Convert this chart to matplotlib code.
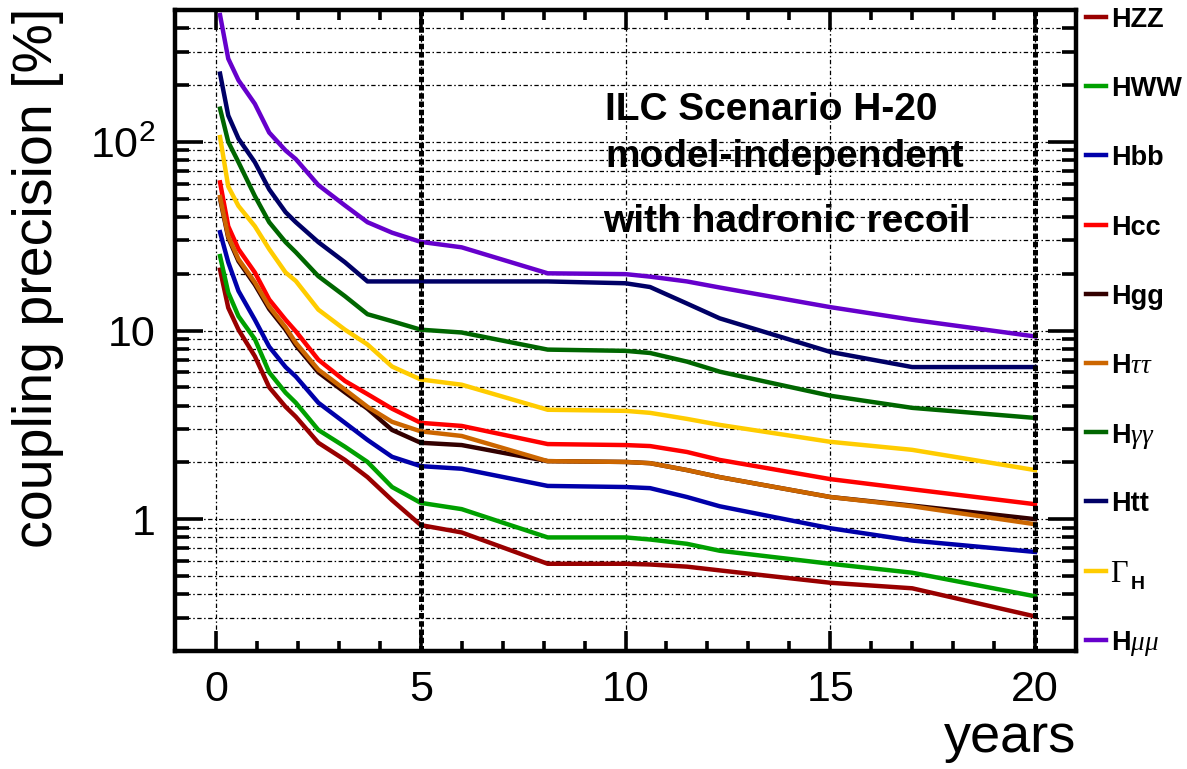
import matplotlib
matplotlib.use("Agg")
import matplotlib.pyplot as plt
from matplotlib.lines import Line2D
from matplotlib.ticker import FixedLocator, FixedFormatter, NullFormatter

plt.rcParams['font.family'] = ['Liberation Sans', 'DejaVu Sans']
plt.rcParams['mathtext.fontset'] = 'custom'
plt.rcParams['mathtext.rm'] = 'Liberation Serif'
plt.rcParams['mathtext.it'] = 'Liberation Serif:italic'
plt.rcParams['mathtext.bf'] = 'Liberation Sans:bold'

# running time in years
years = [0.1, 0.3, 0.55, 0.95, 1.3, 1.7, 1.95, 2.5, 3.15, 3.7, 4.3, 5.0,
         6.0, 8.1, 10.0, 10.6, 11.5, 12.3, 15.0, 17.0, 20.0]

# coupling precision [%] per channel
hzz = [21, 13.2, 10.1, 7.3, 5.0, 3.94, 3.49, 2.54, 2.06, 1.67, 1.26, 0.93,
       0.85, 0.58, 0.58, 0.575, 0.56, 0.535, 0.46, 0.43, 0.305]
hww = [24.8, 15.9, 11.9, 9.0, 6.0, 4.68, 4.14, 2.97, 2.42, 2.01, 1.48, 1.22,
       1.13, 0.80, 0.80, 0.78, 0.74, 0.68, 0.58, 0.52, 0.39]
hbb = [33.2, 23, 16.2, 11.4, 8.2, 6.4, 5.7, 4.14, 3.24, 2.63, 2.14, 1.91,
       1.85, 1.50, 1.48, 1.46, 1.31, 1.17, 0.895, 0.77, 0.67]
hcc = [61, 35.7, 27, 20.3, 14.6, 11.4, 9.9, 7.0, 5.4, 4.6, 3.85, 3.24,
       3.12, 2.50, 2.47, 2.44, 2.27, 2.06, 1.63, 1.44, 1.20]
hgg = [50, 31, 23.3, 17.5, 13, 10.1, 8.35, 6.0, 4.7, 3.85, 2.97, 2.54,
       2.47, 2.03, 2.01, 1.98, 1.82, 1.67, 1.31, 1.18, 1.0]
htautau = [51, 31.6, 23.9, 18, 13.4, 10.4, 8.6, 6.2, 4.86, 3.94, 3.28, 2.92,
           2.76, 2.03, 2.01, 1.98, 1.82, 1.67, 1.31, 1.17, 0.94]
hgamgam = [150, 100, 78, 51.6, 37.5, 29.4, 26, 19.4, 15.2, 12.2, 11.2, 10.1,
           9.76, 7.92, 7.8, 7.6, 6.84, 6.05, 4.51, 3.89, 3.44]
htt = [230, 138, 104, 78, 56, 42.4, 37.5, 29.4, 23, 18.2, 18.2, 18.2,
       18.2, 18.2, 17.8, 17.0, 13.9, 11.6, 7.7, 6.4, 6.4]
gamma_h = [106, 58, 45.7, 35.7, 27, 20.3, 18.3, 12.9, 10.1, 8.43, 6.44, 5.5,
           5.16, 3.80, 3.75, 3.66, 3.40, 3.16, 2.57, 2.33, 1.82]
hmumu = [470, 276, 212, 159, 112, 90, 81, 59, 46, 37.5, 33, 29.5,
         27.6, 20.1, 19.9, 19.3, 18.2, 16.9, 13.3, 11.4, 9.3]

labels = ["HZZ", "HWW", "Hbb", "Hcc", "Hgg", r"H$\tau\tau$", r"H$\gamma\gamma$",
          "Htt", None, r"H$\mu\mu$"]
colors = ["#990000", "#00a000", "#0000aa", "#ff0000", "#330000", "#cc6600",
          "#006600", "#000066", "#ffcc00", "#6600cc"]
series = [hzz, hww, hbb, hcc, hgg, htautau, hgamgam, htt, gamma_h, hmumu]

y_major = [1, 10, 100]
y_major_labels = ["1", "10", r"$\mathregular{10^{2}}$"]
x_major = [0, 5, 10, 15, 20]
milestones = [5, 20]

W, H = 1187, 769
fig = plt.figure(figsize=(W / 100, H / 100), dpi=100)
ax = fig.add_axes([175 / W, 1 - 651 / H, (1076 - 175) / W, (651 - 10) / H])

ax.set_yscale('log')
ax.set_xlim(-1, 21)
ax.set_ylim(0.2, 500)

for vals, col in zip(series, colors):
    ax.plot(years, vals, color=col, lw=3.2, solid_joinstyle='round', zorder=3)

# ticks
ax.yaxis.set_major_locator(FixedLocator(y_major))
ax.yaxis.set_major_formatter(FixedFormatter(y_major_labels))
minor_y = [m * 10.0 ** e for e in (-1, 0, 1, 2) for m in range(2, 10)]
minor_y = [v for v in minor_y if 0.2 <= v <= 500]
ax.yaxis.set_minor_locator(FixedLocator(minor_y))
ax.yaxis.set_minor_formatter(NullFormatter())
ax.xaxis.set_major_locator(FixedLocator(x_major))
ax.xaxis.set_minor_locator(FixedLocator([v for v in range(-1, 22) if v not in x_major]))

ax.tick_params(axis='both', which='both', direction='in', top=True, right=True,
               width=2.6, colors='black')
ax.tick_params(axis='y', which='major', length=20, labelsize=31, pad=14)
ax.tick_params(axis='y', which='minor', length=10)
ax.tick_params(axis='x', which='major', length=14.5, labelsize=31, pad=14)
ax.tick_params(axis='x', which='minor', length=7)
for s in ax.spines.values():
    s.set_linewidth(3.2)

# grid
grid_ls = (0, (3.5, 2.0, 1.2, 2.0))
for v in y_major + minor_y:
    ax.axhline(v, color='black', lw=0.9, ls=grid_ls, zorder=1)
for v in x_major:
    ax.axvline(v, color='black', lw=0.9, ls=grid_ls, zorder=1)
for v in milestones:
    ax.axvline(v, color='black', lw=3.6, ls=(0, (1.1, 0.55)), zorder=5)

# axis titles
fig.text(38 / W, 1 - 8 / H, "coupling precision [%]", rotation=90,
         ha='center', va='top', fontsize=40)
fig.text(1076 / W, 1 - 752 / H, "years", ha='right', va='baseline', fontsize=39)

# scenario text
for txt, yb, xl in [("ILC Scenario H-20", 120, 605),
                    ("model-independent", 167, 605),
                    ("with hadronic recoil", 232, 603)]:
    fig.text(xl / W, 1 - yb / H, txt, fontsize=28, fontweight='bold',
             ha='left', va='baseline')

# legend on the right
for i, (lab, col) in enumerate(zip(labels, colors)):
    yc = 17 + 69.2 * i
    fy = 1 - yc / H
    fig.add_artist(Line2D([1086 / W, 1106 / W], [fy, fy], color=col, lw=3.2,
                          transform=fig.transFigure))
    if lab is None:
        fig.text(1110 / W, fy, r"$\Gamma$", fontsize=22, ha='left',
                 va='center_baseline')
        fig.text(1131 / W, 1 - (yc + 14) / H, "H", fontsize=14,
                 fontweight='bold', ha='left', va='center')
    else:
        fig.text(1111 / W, fy, lab, fontsize=19.5, fontweight='bold',
                 ha='left', va='center_baseline')

fig.savefig("out.png", dpi=100)
